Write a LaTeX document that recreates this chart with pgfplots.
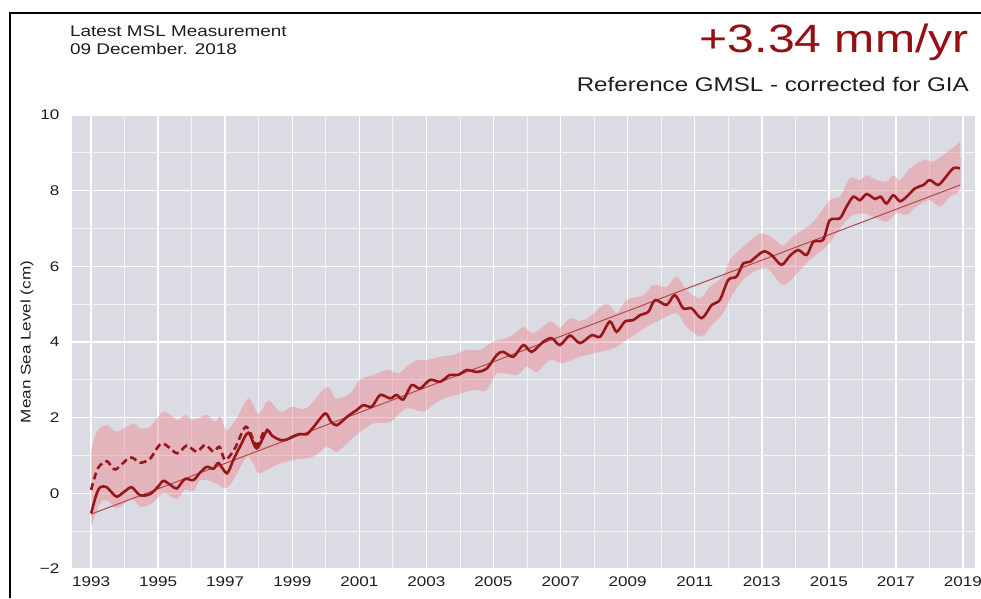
\documentclass[border=0pt]{standalone}
\usepackage{fontspec}
\setmainfont{Liberation Sans}[FakeStretch=1.22]
\usepackage{pgfplots}
\pgfplotsset{compat=1.18}
\definecolor{bgcol}{RGB}{218,219,227}
\definecolor{linecol}{RGB}{152,22,24}
\definecolor{trendcol}{RGB}{178,72,74}
\definecolor{bandcol}{RGB}{240,128,132}
\definecolor{titlecol}{RGB}{150,15,20}
\definecolor{txtcol}{RGB}{30,30,30}
\begin{document}
\begin{tikzpicture}
\path[use as bounding box] (0,0) rectangle (981pt,598pt);
\draw[line width=2pt,black] (10pt,0pt) -- (10pt,585pt) -- (981pt,585pt);
\node[anchor=base west,inner sep=0pt,text=txtcol,font=\fontsize{15.5}{18}\selectfont] at (70pt,561pt) {Latest MSL Measurement};
\node[anchor=base west,inner sep=0pt,text=txtcol,font=\fontsize{15.5}{18}\selectfont] at (70pt,543pt) {09 December. 2018};
\node[anchor=base east,inner sep=0pt,text=titlecol,font=\fontsize{39.5}{42}\selectfont] at (969pt,545pt) {+3.34 mm/yr};
\node[anchor=base east,inner sep=0pt,text=txtcol,font=\fontsize{19.8}{22}\selectfont] at (969pt,506pt) {Reference GMSL - corrected for GIA};
\begin{axis}[
  at={(72pt,29pt)}, anchor=south west,
  scale only axis, width=903pt, height=454pt,
  xmin=1992.43, xmax=2019.36, ymin=-2, ymax=10,
  axis background/.style={fill=bgcol},
  axis line style={draw=none},
  major tick length=0pt, minor tick length=0pt,
  xtick={1993,1995,1997,1999,2001,2003,2005,2007,2009,2011,2013,2015,2017,2019},
  xticklabels={1993,1995,1997,1999,2001,2003,2005,2007,2009,2011,2013,2015,2017,2019},
  minor xtick={1994,1996,1998,2000,2002,2004,2006,2008,2010,2012,2014,2016,2018},
  ytick={-2,0,2,4,6,8,10},
  yticklabels={−2,0,2,4,6,8,10},
  minor ytick={-1,1,3,5,7,9},
  grid=both,
  major grid style={white,line width=1.6pt},
  minor grid style={white!70!bgcol,line width=0.9pt},
  ticklabel style={text=txtcol,font=\fontsize{14}{16}\selectfont},
  xticklabel style={yshift=-4pt},
  yticklabel style={xshift=-9pt},
  ylabel={Mean Sea Level (cm)},
  every axis y label/.style={at={(axis description cs:-0.0498,0.5)},rotate=90,anchor=center,text=txtcol,font=\fontsize{14}{16}\selectfont},
]
% uncertainty band: upper edge left to right, then lower edge right to left
\addplot[fill=bandcol,fill opacity=0.42,draw=none,smooth,tension=0.5] coordinates {
(1993.00,1.14) (1993.17,1.63) (1993.47,1.81) (1993.77,1.63) (1994.26,1.85) (1994.46,1.72) (1994.76,1.76)
(1995.16,2.16) (1995.56,1.94) (1995.80,2.07) (1996.05,1.94) (1996.45,2.07) (1996.70,1.89) (1996.85,2.03)
(1997.05,1.67) (1997.35,2.00) (1997.69,2.51) (1997.99,2.11) (1998.29,2.45) (1998.64,2.15) (1998.98,2.29)
(1999.43,2.25) (2000.03,2.82) (2000.30,2.51) (2000.72,2.64) (2001.02,3.00) (2001.42,3.13) (2001.82,3.26)
(2002.16,3.17) (2002.41,3.35) (2002.71,3.52) (2003.00,3.52) (2003.41,3.61) (2003.80,3.66) (2004.20,3.79)
(2004.60,3.79) (2004.99,4.01) (2005.49,4.14) (2005.89,4.40) (2006.19,4.23) (2006.69,4.54) (2006.98,4.38)
(2007.28,4.63) (2007.58,4.56) (2007.88,4.67) (2008.37,5.02) (2008.67,4.76) (2008.97,5.11) (2009.47,5.24)
(2009.77,5.51) (2010.16,5.46) (2010.46,5.73) (2010.76,5.37) (2011.16,5.15) (2011.45,5.46) (2011.85,5.73)
(2012.05,6.17) (2012.45,6.52) (2012.95,6.87) (2013.34,6.74) (2013.64,6.55) (2013.94,6.80) (2014.14,6.92)
(2014.54,7.18) (2015.03,7.75) (2015.33,7.84) (2015.63,8.33) (2015.93,8.28) (2016.13,8.41) (2016.43,8.28)
(2016.72,8.24) (2016.92,8.41) (2017.12,8.28) (2017.42,8.59) (2017.82,8.81) (2018.11,8.77) (2018.41,8.94)
(2018.81,9.21) (2018.91,9.21)
(2018.91,8.06) (2018.61,7.84) (2018.31,7.58) (2018.01,7.75) (2017.62,7.58) (2017.32,7.36) (2017.02,7.40)
(2016.72,7.18) (2016.43,7.27) (2016.03,7.40) (2015.63,7.31) (2015.23,6.87) (2014.93,6.52) (2014.43,6.17)
(2014.14,5.90) (2013.64,5.51) (2013.14,5.95) (2012.55,5.73) (2012.15,5.29) (2011.85,4.76) (2011.55,4.49)
(2011.21,4.14) (2010.76,4.40) (2010.46,4.76) (2009.97,4.58) (2009.57,4.40) (2008.97,4.05) (2008.57,3.83)
(2007.98,3.70) (2007.58,3.61) (2007.08,3.44) (2006.69,3.52) (2006.29,3.21) (2005.99,3.35) (2005.69,3.13)
(2005.10,3.17) (2004.80,2.73) (2004.40,2.73) (2003.90,2.60) (2003.41,2.47) (2002.91,2.16) (2002.41,2.25)
(2001.92,1.89) (2001.42,1.85) (2001.02,1.62) (2000.72,1.40) (2000.33,1.10) (2000.03,1.23) (1999.63,0.97)
(1999.03,0.88) (1998.64,0.79) (1998.24,0.62) (1997.99,0.53) (1997.84,0.79) (1997.64,0.97) (1997.24,0.35)
(1997.00,0.13) (1996.65,0.30) (1996.25,0.35) (1996.05,0.05) (1995.80,0.10) (1995.56,-0.15) (1995.16,0.00)
(1994.76,-0.30) (1994.46,-0.35) (1994.21,-0.15) (1993.77,-0.40) (1993.50,-0.20) (1993.27,-0.25) (1993.00,-0.90)
} -- cycle;
\addplot[trendcol,line width=1pt] coordinates {(1993.00,-0.55) (2018.92,8.15)};
\addplot[linecol,line width=2.6pt,dash pattern=on 7pt off 4pt,smooth,tension=0.5] coordinates {
(1993.00,0.09) (1993.20,0.66) (1993.47,0.85) (1993.72,0.63) (1994.16,0.95) (1994.46,0.81) (1994.76,0.92)
(1995.11,1.32) (1995.56,1.06) (1995.85,1.26) (1996.15,1.10) (1996.40,1.28) (1996.65,1.10) (1996.83,1.23)
(1997.00,0.88) (1997.29,1.19) (1997.62,1.76) (1997.94,1.28) (1998.19,1.69) (1998.40,1.52)
};
\addplot[linecol,line width=2.6pt,smooth,tension=0.5] coordinates {
(1993.00,-0.53) (1993.15,-0.05) (1993.27,0.16) (1993.45,0.17) (1993.62,0.02) (1993.77,-0.09) (1994.00,0.05)
(1994.21,0.16) (1994.46,-0.05) (1994.76,-0.02) (1995.00,0.18) (1995.16,0.33) (1995.40,0.20) (1995.56,0.13)
(1995.80,0.38) (1996.05,0.35) (1996.25,0.55) (1996.45,0.70) (1996.65,0.65) (1996.80,0.80) (1997.05,0.53)
(1997.24,0.88) (1997.45,1.25) (1997.69,1.60) (1997.94,1.19) (1998.24,1.65) (1998.40,1.52) (1998.64,1.41)
(1998.83,1.42) (1999.03,1.51) (1999.23,1.57) (1999.43,1.56) (1999.63,1.75) (1999.98,2.11) (2000.15,1.90)
(2000.33,1.80) (2000.67,2.05) (2000.92,2.20) (2001.12,2.33) (2001.37,2.29) (2001.62,2.60) (2001.92,2.51)
(2002.11,2.60) (2002.31,2.48) (2002.56,2.86) (2002.81,2.77) (2003.11,3.00) (2003.41,2.95) (2003.70,3.13)
(2003.95,3.13) (2004.20,3.26) (2004.50,3.21) (2004.80,3.30) (2005.10,3.66) (2005.29,3.74) (2005.59,3.61)
(2005.89,3.92) (2006.14,3.74) (2006.49,4.01) (2006.74,4.10) (2006.98,3.92) (2007.28,4.17) (2007.58,3.97)
(2007.93,4.18) (2008.18,4.14) (2008.47,4.54) (2008.67,4.27) (2008.92,4.54) (2009.17,4.58) (2009.37,4.71)
(2009.62,4.80) (2009.82,5.11) (2010.16,4.98) (2010.41,5.24) (2010.66,4.89) (2010.91,4.89) (2011.21,4.63)
(2011.51,4.98) (2011.75,5.11) (2012.00,5.64) (2012.25,5.73) (2012.45,6.08) (2012.65,6.12) (2013.04,6.39)
(2013.29,6.30) (2013.59,6.04) (2013.84,6.28) (2014.09,6.43) (2014.34,6.30) (2014.54,6.65) (2014.83,6.70)
(2015.03,7.22) (2015.33,7.27) (2015.53,7.58) (2015.73,7.84) (2015.93,7.75) (2016.13,7.91) (2016.38,7.78)
(2016.55,7.84) (2016.72,7.66) (2016.92,7.88) (2017.12,7.72) (2017.32,7.84) (2017.57,8.06) (2017.82,8.15)
(2018.01,8.28) (2018.26,8.15) (2018.46,8.33) (2018.71,8.59) (2018.91,8.59)
};
\end{axis}
\end{tikzpicture}
\end{document}
